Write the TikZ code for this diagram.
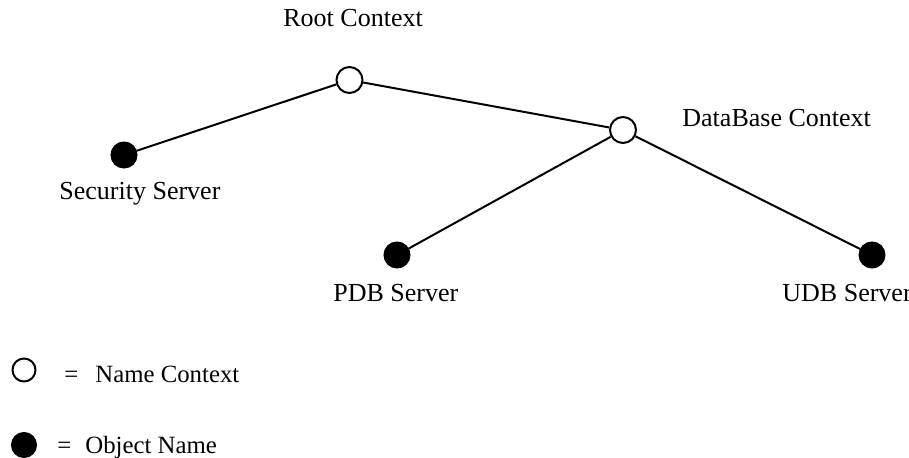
\documentclass[tikz,border=0pt]{standalone}
\usepackage{fontspec}
\setmainfont{Liberation Serif}
\begin{document}
\begin{tikzpicture}[x=0.5pt,y=-0.5pt,
  ctx/.style={circle,draw=black,line width=1pt,fill=white,inner sep=0pt,minimum size=13pt},
  obj/.style={circle,fill=black,draw=black,line width=0.5pt,inner sep=0pt,minimum size=13pt},
  lbl/.style={anchor=base west,inner sep=0pt,font=\fontsize{13}{15}\selectfont},
  leg/.style={lbl,font=\fontsize{12.4}{15}\selectfont},
  edge/.style={line width=1pt}]
\useasboundingbox (0,0) rectangle (909,458);
\node[ctx] (root) at (349.5,80) {};
\node[ctx] (db) at (623,130) {};
\node[obj] (sec) at (124,155) {};
\node[obj] (pdb) at (397,255) {};
\node[obj] (udb) at (872,255) {};
\draw[edge] (root) -- (sec);
\draw[edge] (root) -- (db);
\draw[edge] (db) -- (pdb);
\draw[edge] (db) -- (udb);
\node[lbl] (troot) at (283,27) {Root Context};
\node[lbl] (tdb) at (682,127) {DataBase Context};
\node[lbl] (tsec) at (59,200) {Security Server};
\node[lbl] (tpdb) at (333,302) {PDB Server};
\node[lbl] (tudb) at (782,302) {UDB Server};
\node[ctx,minimum size=11.5pt] (lctx) at (24,370) {};
\node[obj,minimum size=12.5pt] (lobj) at (24,445) {};
\node[leg] (tlctx) at (64,383) {=\hspace{8.5pt}Name Context};
\node[leg] (tlobj) at (57,453) {=\hspace{7pt}Object Name};
\end{tikzpicture}
\end{document}
